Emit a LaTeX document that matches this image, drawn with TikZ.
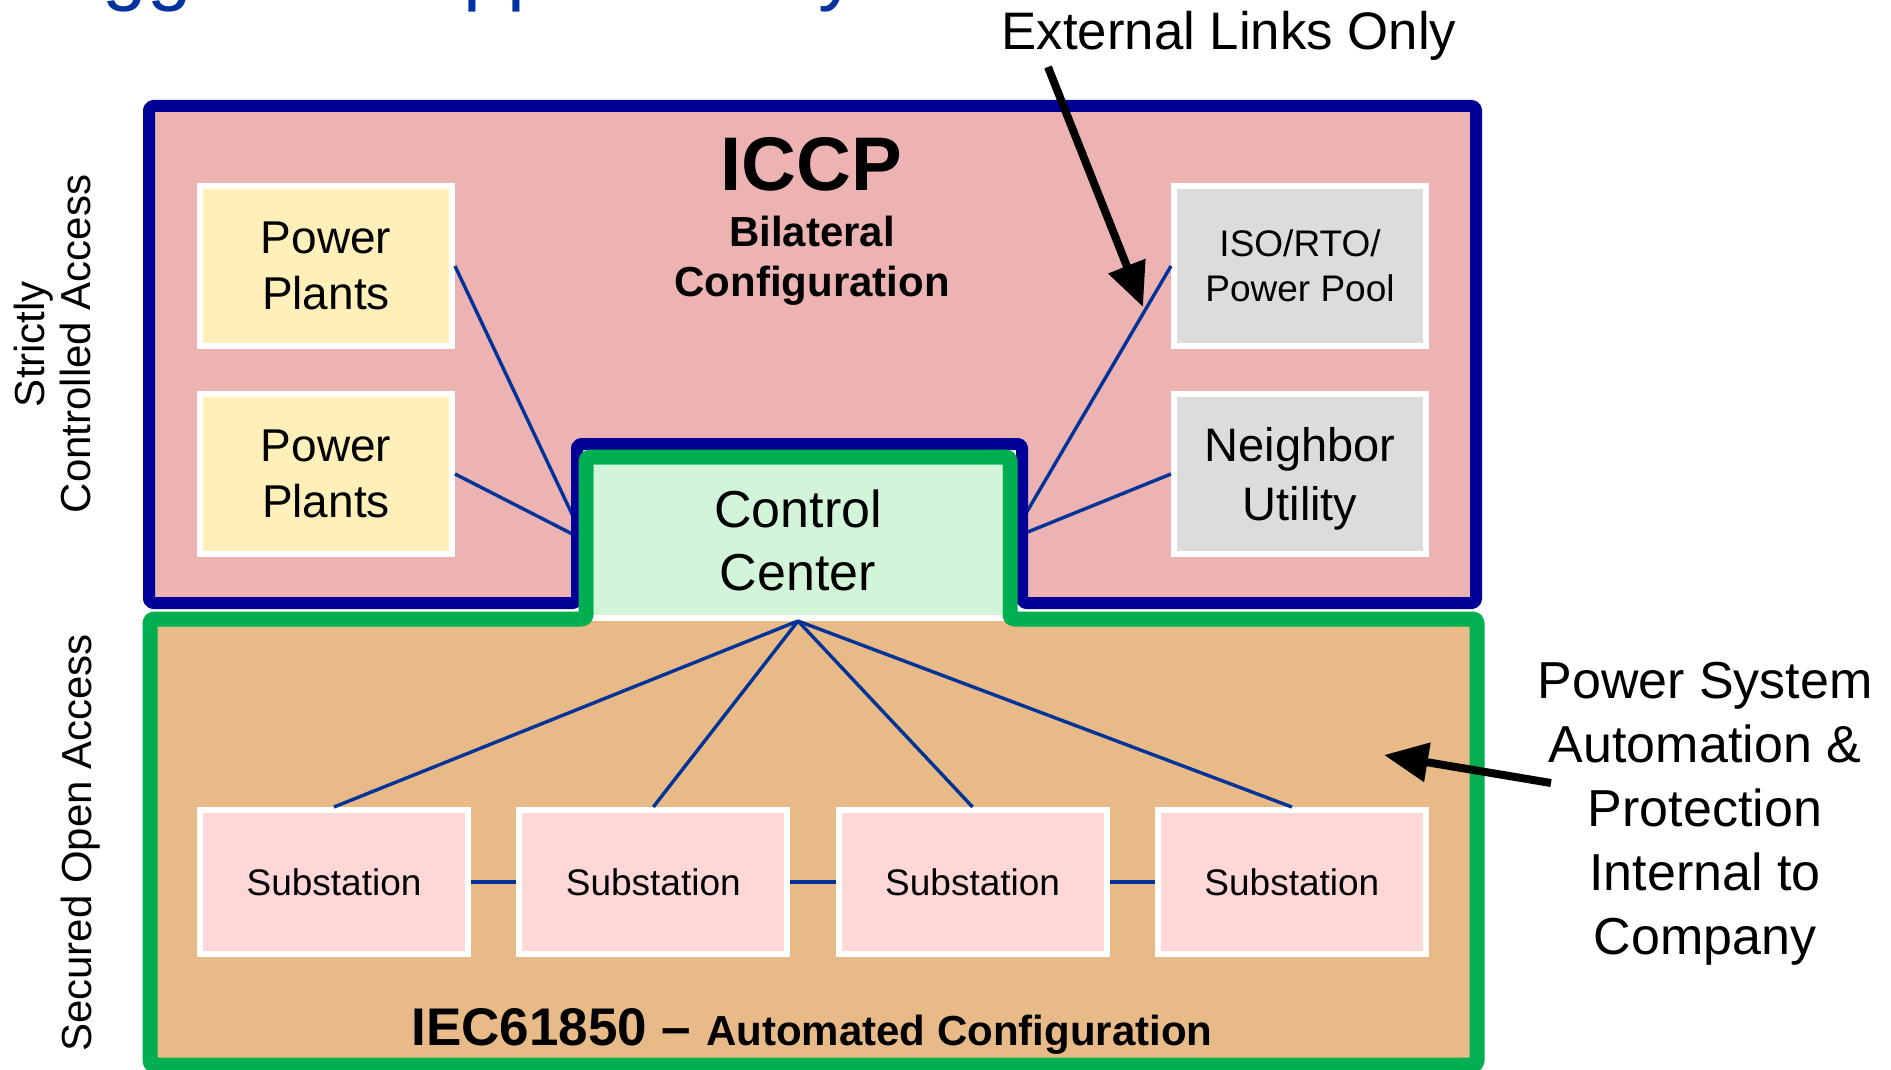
\documentclass[tikz,border=0pt]{standalone}
\usepackage{fontspec}
\setmainfont{Liberation Sans}
\usetikzlibrary{arrows.meta}
\definecolor{cnavy}{HTML}{000099}
\definecolor{cgreen}{HTML}{00B050}
\definecolor{cpink}{HTML}{EDB2B2}
\definecolor{ctan}{HTML}{E8BA88}
\definecolor{cyellow}{HTML}{FFEFB9}
\definecolor{cgrey}{HTML}{DCDCDC}
\definecolor{csub}{HTML}{FFD7D7}
\definecolor{cmint}{HTML}{D2F5DA}
\definecolor{clink}{HTML}{003399}
\definecolor{ctitle}{HTML}{0033A0}
\tikzset{
  box/.style={draw=white, fill=#1, line width=3pt, inner sep=0pt, align=center},
  box/.default=cgrey,
  site/.style={box=#1, minimum width=126pt, minimum height=80pt},
  link/.style={draw=clink, line width=1.7pt},
  callout/.style={-{Triangle[length=22pt, width=19pt]}, line width=4pt},
  zone/.style={line width=#1, rounded corners=2pt, line join=round},
  side/.style={rotate=90, align=center, font=\fontsize{21}{23}\selectfont},
}

\begin{document}
\begin{tikzpicture}[x=0.5pt, y=-0.5pt]
  \path[use as bounding box, fill=white] (0,0) rectangle (1891,1070);
  % slide title, cut off by the top edge
  \node[anchor=base west, text=ctitle, font=\fontsize{40}{48}\selectfont] (title) at (-2,-4) {Suggested Approach by};
  % zone fills
  \fill[cpink] (149,106) -- (1476,106) -- (1476,603) -- (1022,603) -- (1022,444) -- (577,444) -- (577,603) -- (149,603) -- cycle;
  \fill[ctan] (150,619) -- (586,619) -- (586,457) -- (1010,457) -- (1010,619) -- (1477,619) -- (1477,1065) -- (150,1065) -- cycle;
  % boxes
  \node[site=cyellow, font=\fontsize{23}{28}\selectfont] (pp1) at (326,266) {Power\\Plants};
  \node[site=cyellow, font=\fontsize{23}{28}\selectfont] (pp2) at (326,474) {Power\\Plants};
  \node[site=cgrey, font=\fontsize{18.5}{22.5}\selectfont] (iso) at (1300,266) {ISO/RTO/\\Power Pool};
  \node[site=cgrey, font=\fontsize{23.5}{29.5}\selectfont] (nu) at (1300,474) {Neighbor\\Utilit\smash{y}};
  \node[box=cmint, minimum width=207pt, minimum height=78pt, font=\fontsize{26}{31.5}\selectfont] (cc) at (798,540) {Control\\Center};
  \foreach \i in {1,...,4} {
    \node[box=csub, minimum width=134pt, minimum height=72pt, font=\fontsize{18.5}{22}\selectfont] (s\i) at ({334+319.3*(\i-1)},882) {Substation};
  }
  % links
  \draw[link] (pp1.east) -- ([yshift=-4pt]cc.west);
  \draw[link] (pp2.east) -- ([yshift=-1pt]cc.west);
  \draw[link] (iso.west) -- ([yshift=-2pt]cc.east);
  \draw[link] (nu.west) -- (cc.east);
  \foreach \i in {1,...,4}
    \draw[link] (cc.south) -- (s\i.north);
  \foreach \a/\b in {1/2,2/3,3/4}
    \draw[link] (s\a) -- (s\b);
  % zone outlines
  \draw[cnavy, zone=6pt] (149,106) -- (1476,106) -- (1476,603) -- (1022,603) -- (1022,444) -- (577,444) -- (577,603) -- (149,603) -- cycle;
  \draw[cgreen, zone=7.5pt] (150,619) -- (586,619) -- (586,457) -- (1010,457) -- (1010,619) -- (1477,619) -- (1477,1065) -- (150,1065) -- cycle;
  % zone titles
  \node[anchor=base, font=\bfseries\fontsize{38}{44}\selectfont] (iccp) at (811,191) {ICCP};
  \node[align=center, font=\bfseries\fontsize{21}{25}\selectfont] (bilat) at (812,261) {Bilateral\\Configuration};
  \node[anchor=base, font=\bfseries\fontsize{26.5}{30}\selectfont] (iec) at (812,1045) {IEC61850 – {\fontsize{21}{25}\selectfont Automated Configuration}};
  \node[side] (strict) at (52,344) {Strictly\\Controlled Access};
  \node[side, anchor=base] (open) at (91,843) {Secured Open Access};
  % call-outs
  \node[anchor=base, font=\fontsize{26.4}{31}\selectfont] (ext) at (1229,50) {External Links Only};
  \node[align=center, font=\fontsize{26}{32}\selectfont] (psa) at (1705,814) {Power System\\Automation \&\\Protection\\Internal to\\Company};
  \coordinate (extTail) at (1048,67);
  \coordinate (extTip) at (1143,307);
  \draw[callout] (extTail) -- (extTip);
  \coordinate (psaTail) at (1551,783);
  \coordinate (psaTip) at (1384,755);
  \draw[callout] (psaTail) -- (psaTip);
\end{tikzpicture}
\end{document}
